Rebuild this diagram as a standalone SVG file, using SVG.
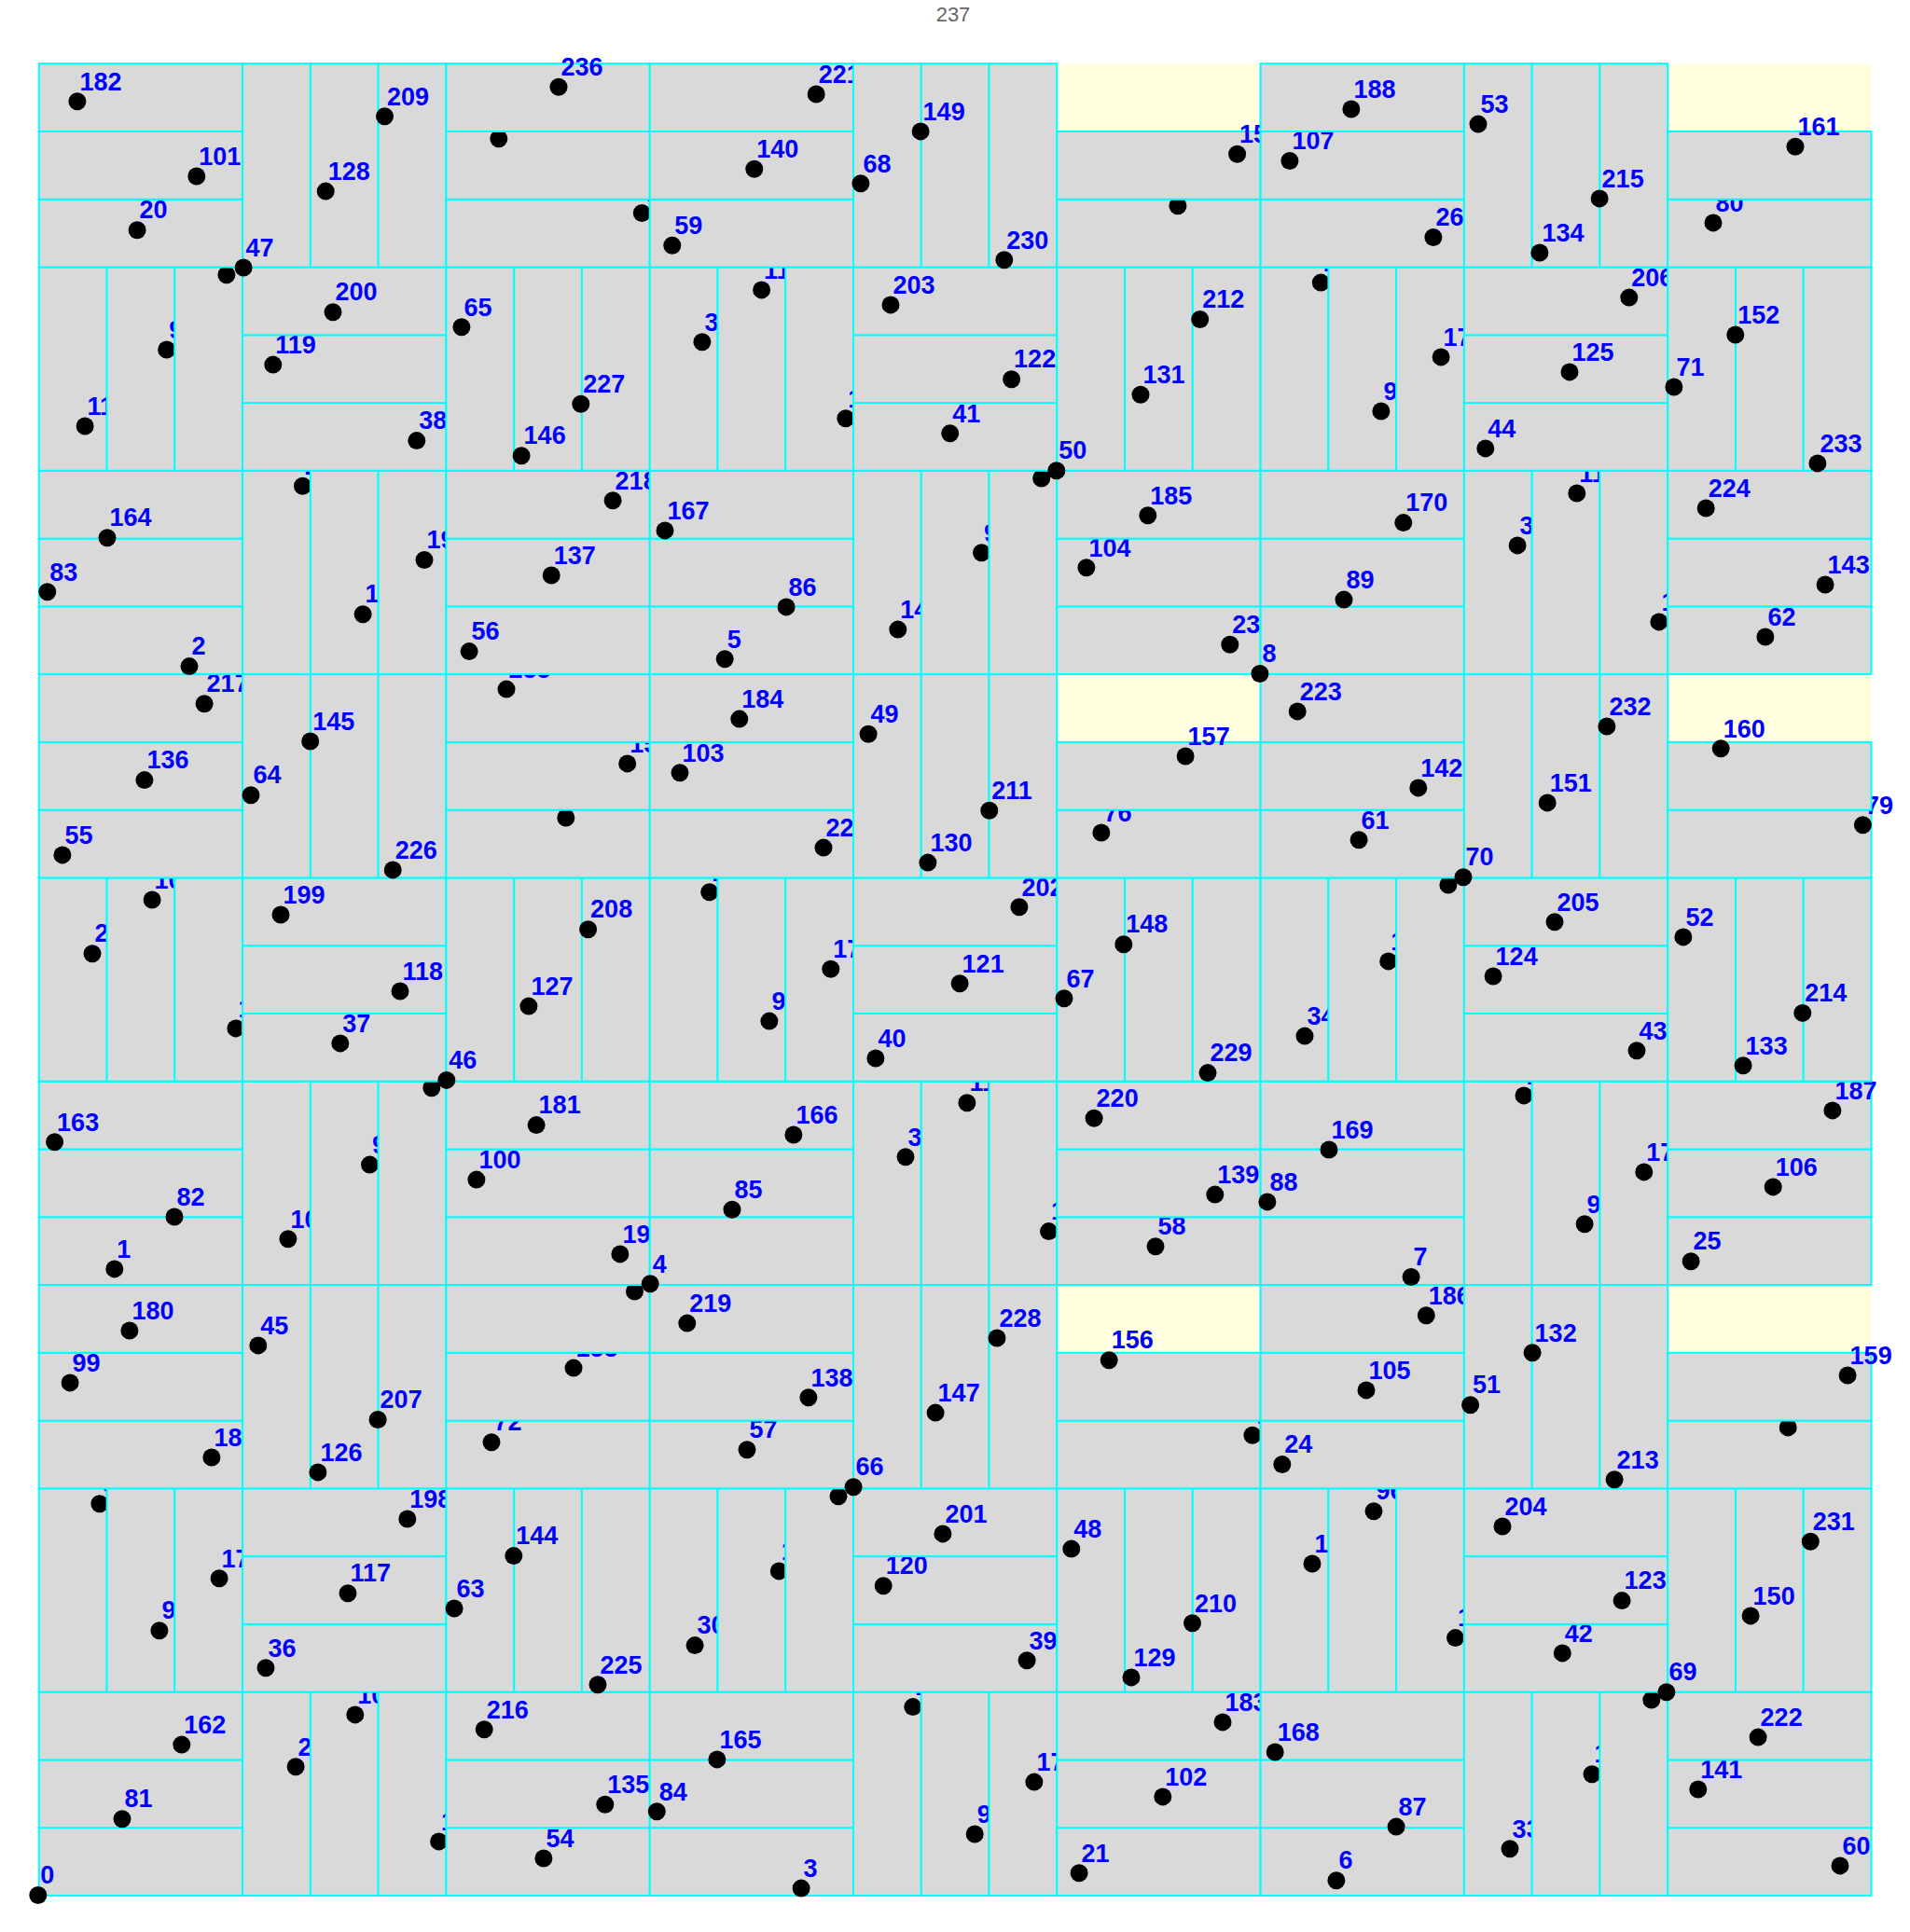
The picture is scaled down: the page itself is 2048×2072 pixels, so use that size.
<svg xmlns="http://www.w3.org/2000/svg" width="2048" height="2072" viewBox="0 0 2048 2072">
<style>
.bg{fill:#ffffe0;stroke:none}
#nodes rect{fill:#d9d9d9;stroke:#00ffff;stroke-width:2}
#nodes circle{fill:#000}
#nodes text{font-family:"Liberation Sans",Arial,sans-serif;font-weight:bold;font-size:27px;fill:#0000ff}
.title{font-family:"Liberation Sans",Arial,sans-serif;font-size:22px;fill:#666;text-anchor:middle}
</style>
<rect width="2048" height="2072" fill="#fff"/>
<text class="title" x="1022" y="22.5">237</text>
<rect class="bg" x="41.8" y="68.2" width="1964.7" height="1964.7"/>
<g id="connectors"/>
<g id="nodes">
<g id="n0"><rect x="41.8" y="1960.1" width="218.3" height="72.8"/><circle cx="40.8" cy="2032.5" r="9.5"/><text x="43.3" y="2020.2">0</text></g>
<g id="n81"><rect x="41.8" y="1887.4" width="218.3" height="72.8"/><circle cx="131" cy="1950.7" r="9.5"/><text x="133.5" y="1938.4">81</text></g>
<g id="n162"><rect x="41.8" y="1814.6" width="218.3" height="72.8"/><circle cx="194.8" cy="1871.1" r="9.5"/><text x="197.3" y="1858.8">162</text></g>
<g id="n27"><rect x="260.1" y="1814.6" width="72.8" height="218.3"/><circle cx="317.1" cy="1894.8" r="9.5"/><text x="319.6" y="1882.5">27</text></g>
<g id="n108"><rect x="332.9" y="1814.6" width="72.8" height="218.3"/><circle cx="380.8" cy="1838.9" r="9.5"/><text x="383.3" y="1826.6">108</text></g>
<g id="n189"><rect x="405.6" y="1814.6" width="72.8" height="218.3"/><circle cx="470.6" cy="1974.9" r="9.5"/><text x="473.1" y="1962.6">189</text></g>
<g id="n54"><rect x="478.4" y="1960.1" width="218.3" height="72.8"/><circle cx="582.9" cy="1993" r="9.5"/><text x="585.4" y="1980.7">54</text></g>
<g id="n135"><rect x="478.4" y="1887.4" width="218.3" height="72.8"/><circle cx="648.8" cy="1935.3" r="9.5"/><text x="651.3" y="1923">135</text></g>
<g id="n216"><rect x="478.4" y="1814.6" width="218.3" height="72.8"/><circle cx="519.2" cy="1854.8" r="9.5"/><text x="521.7" y="1842.5">216</text></g>
<g id="n9"><rect x="41.8" y="1596.3" width="72.8" height="218.3"/><circle cx="106.8" cy="1612.7" r="9.5"/><text x="109.3" y="1600.4">9</text></g>
<g id="n90"><rect x="114.6" y="1596.3" width="72.8" height="218.3"/><circle cx="170.9" cy="1748.7" r="9.5"/><text x="173.4" y="1736.4">90</text></g>
<g id="n171"><rect x="187.3" y="1596.3" width="72.8" height="218.3"/><circle cx="235.1" cy="1692.8" r="9.5"/><text x="237.6" y="1680.5">171</text></g>
<g id="n36"><rect x="260.1" y="1741.8" width="218.3" height="72.8"/><circle cx="285" cy="1788.8" r="9.5"/><text x="287.5" y="1776.5">36</text></g>
<g id="n117"><rect x="260.1" y="1669.1" width="218.3" height="72.8"/><circle cx="373" cy="1708.7" r="9.5"/><text x="375.5" y="1696.4">117</text></g>
<g id="n198"><rect x="260.1" y="1596.3" width="218.3" height="72.8"/><circle cx="436.8" cy="1629" r="9.5"/><text x="439.3" y="1616.7">198</text></g>
<g id="n63"><rect x="478.4" y="1596.3" width="72.8" height="218.3"/><circle cx="487.1" cy="1725" r="9.5"/><text x="489.6" y="1712.7">63</text></g>
<g id="n144"><rect x="551.2" y="1596.3" width="72.8" height="218.3"/><circle cx="550.8" cy="1668.6" r="9.5"/><text x="553.3" y="1656.3">144</text></g>
<g id="n225"><rect x="623.9" y="1596.3" width="72.8" height="218.3"/><circle cx="641" cy="1806.8" r="9.5"/><text x="643.5" y="1794.5">225</text></g>
<g id="n18"><rect x="41.8" y="1523.5" width="218.3" height="72.8"/><circle cx="226.9" cy="1563" r="9.5"/><text x="229.4" y="1550.7">18</text></g>
<g id="n99"><rect x="41.8" y="1450.8" width="218.3" height="72.8"/><circle cx="75.1" cy="1482.9" r="9.5"/><text x="77.6" y="1470.6">99</text></g>
<g id="n180"><rect x="41.8" y="1378" width="218.3" height="72.8"/><circle cx="138.9" cy="1427" r="9.5"/><text x="141.4" y="1414.7">180</text></g>
<g id="n45"><rect x="260.1" y="1378" width="72.8" height="218.3"/><circle cx="276.8" cy="1442.9" r="9.5"/><text x="279.3" y="1430.6">45</text></g>
<g id="n126"><rect x="332.9" y="1378" width="72.8" height="218.3"/><circle cx="340.9" cy="1578.9" r="9.5"/><text x="343.4" y="1566.6">126</text></g>
<g id="n207"><rect x="405.6" y="1378" width="72.8" height="218.3"/><circle cx="405.1" cy="1522.5" r="9.5"/><text x="407.6" y="1510.2">207</text></g>
<g id="n72"><rect x="478.4" y="1523.5" width="218.3" height="72.8"/><circle cx="527" cy="1546.7" r="9.5"/><text x="529.5" y="1534.4">72</text></g>
<g id="n153"><rect x="478.4" y="1450.8" width="218.3" height="72.8"/><circle cx="615" cy="1467.1" r="9.5"/><text x="617.5" y="1454.8">153</text></g>
<g id="n234"><rect x="478.4" y="1378" width="218.3" height="72.8"/><circle cx="680.5" cy="1385" r="9.5"/><text x="683" y="1372.7">234</text></g>
<g id="n3"><rect x="696.7" y="1960.1" width="218.3" height="72.8"/><circle cx="859.1" cy="2025.1" r="9.5"/><text x="861.6" y="2012.8">3</text></g>
<g id="n84"><rect x="696.7" y="1887.4" width="218.3" height="72.8"/><circle cx="704.3" cy="1942.8" r="9.5"/><text x="706.8" y="1930.5">84</text></g>
<g id="n165"><rect x="696.7" y="1814.6" width="218.3" height="72.8"/><circle cx="768.9" cy="1886.9" r="9.5"/><text x="771.4" y="1874.6">165</text></g>
<g id="n30"><rect x="696.7" y="1596.3" width="72.8" height="218.3"/><circle cx="745.1" cy="1764.6" r="9.5"/><text x="747.6" y="1752.3">30</text></g>
<g id="n111"><rect x="769.5" y="1596.3" width="72.8" height="218.3"/><circle cx="835.3" cy="1684.9" r="9.5"/><text x="837.8" y="1672.6">111</text></g>
<g id="n192"><rect x="842.2" y="1596.3" width="72.8" height="218.3"/><circle cx="899" cy="1604.8" r="9.5"/><text x="901.5" y="1592.5">192</text></g>
<g id="n57"><rect x="696.7" y="1523.5" width="218.3" height="72.8"/><circle cx="801" cy="1554.7" r="9.5"/><text x="803.5" y="1542.4">57</text></g>
<g id="n138"><rect x="696.7" y="1450.8" width="218.3" height="72.8"/><circle cx="866.9" cy="1498.8" r="9.5"/><text x="869.4" y="1486.5">138</text></g>
<g id="n219"><rect x="696.7" y="1378" width="218.3" height="72.8"/><circle cx="736.8" cy="1419.1" r="9.5"/><text x="739.3" y="1406.8">219</text></g>
<g id="n12"><rect x="915" y="1814.6" width="72.8" height="218.3"/><circle cx="978.8" cy="1830.6" r="9.5"/><text x="981.3" y="1818.3">12</text></g>
<g id="n93"><rect x="987.8" y="1814.6" width="72.8" height="218.3"/><circle cx="1045.2" cy="1967" r="9.5"/><text x="1047.7" y="1954.7">93</text></g>
<g id="n174"><rect x="1060.5" y="1814.6" width="72.8" height="218.3"/><circle cx="1108.9" cy="1911.1" r="9.5"/><text x="1111.4" y="1898.8">174</text></g>
<g id="n39"><rect x="915" y="1741.8" width="218.3" height="72.8"/><circle cx="1101.1" cy="1780.8" r="9.5"/><text x="1103.6" y="1768.5">39</text></g>
<g id="n120"><rect x="915" y="1669.1" width="218.3" height="72.8"/><circle cx="947.2" cy="1700.7" r="9.5"/><text x="949.7" y="1688.4">120</text></g>
<g id="n201"><rect x="915" y="1596.3" width="218.3" height="72.8"/><circle cx="1010.9" cy="1644.9" r="9.5"/><text x="1013.4" y="1632.6">201</text></g>
<g id="n66"><rect x="915" y="1378" width="72.8" height="218.3"/><circle cx="915.1" cy="1594.7" r="9.5"/><text x="917.6" y="1582.4">66</text></g>
<g id="n147"><rect x="987.8" y="1378" width="72.8" height="218.3"/><circle cx="1003.1" cy="1515.1" r="9.5"/><text x="1005.6" y="1502.8">147</text></g>
<g id="n228"><rect x="1060.5" y="1378" width="72.8" height="218.3"/><circle cx="1069" cy="1435" r="9.5"/><text x="1071.5" y="1422.7">228</text></g>
<g id="n21"><rect x="1133.3" y="1960.1" width="218.3" height="72.8"/><circle cx="1157.1" cy="2008.8" r="9.5"/><text x="1159.6" y="1996.5">21</text></g>
<g id="n102"><rect x="1133.3" y="1887.4" width="218.3" height="72.8"/><circle cx="1246.8" cy="1926.9" r="9.5"/><text x="1249.3" y="1914.6">102</text></g>
<g id="n183"><rect x="1133.3" y="1814.6" width="218.3" height="72.8"/><circle cx="1311" cy="1846.9" r="9.5"/><text x="1313.5" y="1834.6">183</text></g>
<g id="n48"><rect x="1133.3" y="1596.3" width="72.8" height="218.3"/><circle cx="1148.8" cy="1661.1" r="9.5"/><text x="1151.3" y="1648.8">48</text></g>
<g id="n129"><rect x="1206.1" y="1596.3" width="72.8" height="218.3"/><circle cx="1213" cy="1798.9" r="9.5"/><text x="1215.5" y="1786.6">129</text></g>
<g id="n210"><rect x="1278.8" y="1596.3" width="72.8" height="218.3"/><circle cx="1278.5" cy="1740.8" r="9.5"/><text x="1281" y="1728.5">210</text></g>
<g id="n75"><rect x="1133.3" y="1523.5" width="218.3" height="72.8"/><circle cx="1342.9" cy="1539.3" r="9.5"/><text x="1345.4" y="1527">75</text></g>
<g id="n156"><rect x="1133.3" y="1450.8" width="218.3" height="72.8"/><circle cx="1189.2" cy="1458.7" r="9.5"/><text x="1191.7" y="1446.4">156</text></g>
<g id="n6"><rect x="1351.6" y="1960.1" width="218.3" height="72.8"/><circle cx="1432.9" cy="2016.7" r="9.5"/><text x="1435.4" y="2004.4">6</text></g>
<g id="n87"><rect x="1351.6" y="1887.4" width="218.3" height="72.8"/><circle cx="1497.1" cy="1959.1" r="9.5"/><text x="1499.6" y="1946.8">87</text></g>
<g id="n168"><rect x="1351.6" y="1814.6" width="218.3" height="72.8"/><circle cx="1367.2" cy="1879" r="9.5"/><text x="1369.7" y="1866.7">168</text></g>
<g id="n33"><rect x="1569.9" y="1814.6" width="72.8" height="218.3"/><circle cx="1619" cy="1982.8" r="9.5"/><text x="1621.5" y="1970.5">33</text></g>
<g id="n114"><rect x="1642.7" y="1814.6" width="72.8" height="218.3"/><circle cx="1707" cy="1902.7" r="9.5"/><text x="1709.5" y="1890.4">114</text></g>
<g id="n195"><rect x="1715.4" y="1814.6" width="72.8" height="218.3"/><circle cx="1770.8" cy="1823.1" r="9.5"/><text x="1773.3" y="1810.8">195</text></g>
<g id="n60"><rect x="1788.2" y="1960.1" width="218.3" height="72.8"/><circle cx="1973" cy="2000.9" r="9.5"/><text x="1975.5" y="1988.6">60</text></g>
<g id="n141"><rect x="1788.2" y="1887.4" width="218.3" height="72.8"/><circle cx="1820.8" cy="1919" r="9.5"/><text x="1823.3" y="1906.7">141</text></g>
<g id="n222"><rect x="1788.2" y="1814.6" width="218.3" height="72.8"/><circle cx="1885.1" cy="1863.1" r="9.5"/><text x="1887.6" y="1850.8">222</text></g>
<g id="n15"><rect x="1351.6" y="1596.3" width="72.8" height="218.3"/><circle cx="1407" cy="1677" r="9.5"/><text x="1409.5" y="1664.7">15</text></g>
<g id="n96"><rect x="1424.4" y="1596.3" width="72.8" height="218.3"/><circle cx="1473" cy="1620.7" r="9.5"/><text x="1475.5" y="1608.4">96</text></g>
<g id="n177"><rect x="1497.1" y="1596.3" width="72.8" height="218.3"/><circle cx="1560.5" cy="1756.6" r="9.5"/><text x="1563" y="1744.3">177</text></g>
<g id="n42"><rect x="1569.9" y="1741.8" width="218.3" height="72.8"/><circle cx="1675.3" cy="1772.9" r="9.5"/><text x="1677.8" y="1760.6">42</text></g>
<g id="n123"><rect x="1569.9" y="1669.1" width="218.3" height="72.8"/><circle cx="1739.1" cy="1716.6" r="9.5"/><text x="1741.6" y="1704.3">123</text></g>
<g id="n204"><rect x="1569.9" y="1596.3" width="218.3" height="72.8"/><circle cx="1611" cy="1637" r="9.5"/><text x="1613.5" y="1624.7">204</text></g>
<g id="n69"><rect x="1788.2" y="1596.3" width="72.8" height="218.3"/><circle cx="1786.9" cy="1814.7" r="9.5"/><text x="1789.4" y="1802.4">69</text></g>
<g id="n150"><rect x="1861" y="1596.3" width="72.8" height="218.3"/><circle cx="1877.1" cy="1732.9" r="9.5"/><text x="1879.6" y="1720.6">150</text></g>
<g id="n231"><rect x="1933.7" y="1596.3" width="72.8" height="218.3"/><circle cx="1941.3" cy="1653.2" r="9.5"/><text x="1943.8" y="1640.9">231</text></g>
<g id="n24"><rect x="1351.6" y="1523.5" width="218.3" height="72.8"/><circle cx="1374.8" cy="1570.5" r="9.5"/><text x="1377.3" y="1558.2">24</text></g>
<g id="n105"><rect x="1351.6" y="1450.8" width="218.3" height="72.8"/><circle cx="1465" cy="1490.9" r="9.5"/><text x="1467.5" y="1478.6">105</text></g>
<g id="n186"><rect x="1351.6" y="1378" width="218.3" height="72.8"/><circle cx="1529.3" cy="1410.8" r="9.5"/><text x="1531.8" y="1398.5">186</text></g>
<g id="n51"><rect x="1569.9" y="1378" width="72.8" height="218.3"/><circle cx="1576.6" cy="1506.7" r="9.5"/><text x="1579.1" y="1494.4">51</text></g>
<g id="n132"><rect x="1642.7" y="1378" width="72.8" height="218.3"/><circle cx="1643.1" cy="1450.8" r="9.5"/><text x="1645.6" y="1438.5">132</text></g>
<g id="n213"><rect x="1715.4" y="1378" width="72.8" height="218.3"/><circle cx="1731.1" cy="1586.8" r="9.5"/><text x="1733.6" y="1574.5">213</text></g>
<g id="n78"><rect x="1788.2" y="1523.5" width="218.3" height="72.8"/><circle cx="1917.2" cy="1530.9" r="9.5"/><text x="1919.7" y="1518.6">78</text></g>
<g id="n159"><rect x="1788.2" y="1450.8" width="218.3" height="72.8"/><circle cx="1981.1" cy="1475" r="9.5"/><text x="1983.6" y="1462.7">159</text></g>
<g id="n1"><rect x="41.8" y="1305.2" width="218.3" height="72.8"/><circle cx="122.8" cy="1360.9" r="9.5"/><text x="125.3" y="1348.6">1</text></g>
<g id="n82"><rect x="41.8" y="1232.5" width="218.3" height="72.8"/><circle cx="187" cy="1305" r="9.5"/><text x="189.5" y="1292.7">82</text></g>
<g id="n163"><rect x="41.8" y="1159.7" width="218.3" height="72.8"/><circle cx="58.6" cy="1224.8" r="9.5"/><text x="61.1" y="1212.5">163</text></g>
<g id="n28"><rect x="41.8" y="941.4" width="72.8" height="218.3"/><circle cx="99" cy="1022.7" r="9.5"/><text x="101.5" y="1010.4">28</text></g>
<g id="n109"><rect x="114.6" y="941.4" width="72.8" height="218.3"/><circle cx="163.1" cy="965" r="9.5"/><text x="165.6" y="952.7">109</text></g>
<g id="n190"><rect x="187.3" y="941.4" width="72.8" height="218.3"/><circle cx="252.9" cy="1102.9" r="9.5"/><text x="255.4" y="1090.6">190</text></g>
<g id="n55"><rect x="41.8" y="868.6" width="218.3" height="72.8"/><circle cx="66.9" cy="916.9" r="9.5"/><text x="69.4" y="904.6">55</text></g>
<g id="n136"><rect x="41.8" y="795.9" width="218.3" height="72.8"/><circle cx="154.9" cy="836.6" r="9.5"/><text x="157.4" y="824.3">136</text></g>
<g id="n217"><rect x="41.8" y="723.1" width="218.3" height="72.8"/><circle cx="219.1" cy="754.7" r="9.5"/><text x="221.6" y="742.4">217</text></g>
<g id="n10"><rect x="260.1" y="1159.7" width="72.8" height="218.3"/><circle cx="308.9" cy="1328.8" r="9.5"/><text x="311.4" y="1316.5">10</text></g>
<g id="n91"><rect x="332.9" y="1159.7" width="72.8" height="218.3"/><circle cx="396.5" cy="1249.1" r="9.5"/><text x="399" y="1236.8">91</text></g>
<g id="n172"><rect x="405.6" y="1159.7" width="72.8" height="218.3"/><circle cx="462.8" cy="1166.7" r="9.5"/><text x="465.3" y="1154.4">172</text></g>
<g id="n37"><rect x="260.1" y="1086.9" width="218.3" height="72.8"/><circle cx="364.8" cy="1118.9" r="9.5"/><text x="367.3" y="1106.6">37</text></g>
<g id="n118"><rect x="260.1" y="1014.2" width="218.3" height="72.8"/><circle cx="429" cy="1063" r="9.5"/><text x="431.5" y="1050.7">118</text></g>
<g id="n199"><rect x="260.1" y="941.4" width="218.3" height="72.8"/><circle cx="301" cy="981" r="9.5"/><text x="303.5" y="968.7">199</text></g>
<g id="n64"><rect x="260.1" y="723.1" width="72.8" height="218.3"/><circle cx="269" cy="852.7" r="9.5"/><text x="271.5" y="840.4">64</text></g>
<g id="n145"><rect x="332.9" y="723.1" width="72.8" height="218.3"/><circle cx="332.7" cy="795" r="9.5"/><text x="335.2" y="782.7">145</text></g>
<g id="n226"><rect x="405.6" y="723.1" width="72.8" height="218.3"/><circle cx="421.2" cy="932.9" r="9.5"/><text x="423.7" y="920.6">226</text></g>
<g id="n19"><rect x="478.4" y="1305.2" width="218.3" height="72.8"/><circle cx="664.9" cy="1344.9" r="9.5"/><text x="667.4" y="1332.6">19</text></g>
<g id="n100"><rect x="478.4" y="1232.5" width="218.3" height="72.8"/><circle cx="510.9" cy="1265.1" r="9.5"/><text x="513.4" y="1252.8">100</text></g>
<g id="n181"><rect x="478.4" y="1159.7" width="218.3" height="72.8"/><circle cx="575.1" cy="1206.6" r="9.5"/><text x="577.6" y="1194.3">181</text></g>
<g id="n46"><rect x="478.4" y="941.4" width="72.8" height="218.3"/><circle cx="478.8" cy="1158.4" r="9.5"/><text x="481.3" y="1146.1">46</text></g>
<g id="n127"><rect x="551.2" y="941.4" width="72.8" height="218.3"/><circle cx="566.9" cy="1079.1" r="9.5"/><text x="569.4" y="1066.8">127</text></g>
<g id="n208"><rect x="623.9" y="941.4" width="72.8" height="218.3"/><circle cx="630.6" cy="996.7" r="9.5"/><text x="633.1" y="984.4">208</text></g>
<g id="n73"><rect x="478.4" y="868.6" width="218.3" height="72.8"/><circle cx="606.8" cy="877" r="9.5"/><text x="609.3" y="864.7">73</text></g>
<g id="n154"><rect x="478.4" y="795.9" width="218.3" height="72.8"/><circle cx="672.7" cy="818.9" r="9.5"/><text x="675.2" y="806.6">154</text></g>
<g id="n235"><rect x="478.4" y="723.1" width="218.3" height="72.8"/><circle cx="543" cy="739.1" r="9.5"/><text x="545.5" y="726.8">235</text></g>
<g id="n4"><rect x="696.7" y="1305.2" width="218.3" height="72.8"/><circle cx="697.2" cy="1376.8" r="9.5"/><text x="699.7" y="1364.5">4</text></g>
<g id="n85"><rect x="696.7" y="1232.5" width="218.3" height="72.8"/><circle cx="785" cy="1297.2" r="9.5"/><text x="787.5" y="1284.9">85</text></g>
<g id="n166"><rect x="696.7" y="1159.7" width="218.3" height="72.8"/><circle cx="850.9" cy="1217" r="9.5"/><text x="853.4" y="1204.7">166</text></g>
<g id="n31"><rect x="915" y="1159.7" width="72.8" height="218.3"/><circle cx="971" cy="1240.8" r="9.5"/><text x="973.5" y="1228.5">31</text></g>
<g id="n112"><rect x="987.8" y="1159.7" width="72.8" height="218.3"/><circle cx="1036.9" cy="1182.7" r="9.5"/><text x="1039.4" y="1170.4">112</text></g>
<g id="n193"><rect x="1060.5" y="1159.7" width="72.8" height="218.3"/><circle cx="1124.5" cy="1320.6" r="9.5"/><text x="1127" y="1308.3">193</text></g>
<g id="n58"><rect x="1133.3" y="1305.2" width="218.3" height="72.8"/><circle cx="1239" cy="1336.7" r="9.5"/><text x="1241.5" y="1324.4">58</text></g>
<g id="n139"><rect x="1133.3" y="1232.5" width="218.3" height="72.8"/><circle cx="1302.8" cy="1281.1" r="9.5"/><text x="1305.3" y="1268.8">139</text></g>
<g id="n220"><rect x="1133.3" y="1159.7" width="218.3" height="72.8"/><circle cx="1173.1" cy="1199.2" r="9.5"/><text x="1175.6" y="1186.9">220</text></g>
<g id="n13"><rect x="696.7" y="941.4" width="72.8" height="218.3"/><circle cx="760.7" cy="956.8" r="9.5"/><text x="763.2" y="944.5">13</text></g>
<g id="n94"><rect x="769.5" y="941.4" width="72.8" height="218.3"/><circle cx="824.9" cy="1095.1" r="9.5"/><text x="827.4" y="1082.8">94</text></g>
<g id="n175"><rect x="842.2" y="941.4" width="72.8" height="218.3"/><circle cx="890.8" cy="1039.2" r="9.5"/><text x="893.3" y="1026.9">175</text></g>
<g id="n40"><rect x="915" y="1086.9" width="218.3" height="72.8"/><circle cx="938.9" cy="1135" r="9.5"/><text x="941.4" y="1122.7">40</text></g>
<g id="n121"><rect x="915" y="1014.2" width="218.3" height="72.8"/><circle cx="1029.1" cy="1054.8" r="9.5"/><text x="1031.6" y="1042.5">121</text></g>
<g id="n202"><rect x="915" y="941.4" width="218.3" height="72.8"/><circle cx="1092.9" cy="972.8" r="9.5"/><text x="1095.4" y="960.5">202</text></g>
<g id="n67"><rect x="1133.3" y="941.4" width="72.8" height="218.3"/><circle cx="1141" cy="1070.8" r="9.5"/><text x="1143.5" y="1058.5">67</text></g>
<g id="n148"><rect x="1206.1" y="941.4" width="72.8" height="218.3"/><circle cx="1204.8" cy="1012.7" r="9.5"/><text x="1207.3" y="1000.4">148</text></g>
<g id="n229"><rect x="1278.8" y="941.4" width="72.8" height="218.3"/><circle cx="1295" cy="1150.6" r="9.5"/><text x="1297.5" y="1138.3">229</text></g>
<g id="n22"><rect x="696.7" y="868.6" width="218.3" height="72.8"/><circle cx="883" cy="909.1" r="9.5"/><text x="885.5" y="896.8">22</text></g>
<g id="n103"><rect x="696.7" y="795.9" width="218.3" height="72.8"/><circle cx="729" cy="828.8" r="9.5"/><text x="731.5" y="816.5">103</text></g>
<g id="n184"><rect x="696.7" y="723.1" width="218.3" height="72.8"/><circle cx="792.8" cy="771.1" r="9.5"/><text x="795.3" y="758.8">184</text></g>
<g id="n49"><rect x="915" y="723.1" width="72.8" height="218.3"/><circle cx="931.1" cy="787.2" r="9.5"/><text x="933.6" y="774.9">49</text></g>
<g id="n130"><rect x="987.8" y="723.1" width="72.8" height="218.3"/><circle cx="994.9" cy="925.1" r="9.5"/><text x="997.4" y="912.8">130</text></g>
<g id="n211"><rect x="1060.5" y="723.1" width="72.8" height="218.3"/><circle cx="1060.8" cy="869.2" r="9.5"/><text x="1063.3" y="856.9">211</text></g>
<g id="n76"><rect x="1133.3" y="868.6" width="218.3" height="72.8"/><circle cx="1180.9" cy="893" r="9.5"/><text x="1183.4" y="880.7">76</text></g>
<g id="n157"><rect x="1133.3" y="795.9" width="218.3" height="72.8"/><circle cx="1271.1" cy="811" r="9.5"/><text x="1273.6" y="798.7">157</text></g>
<g id="n7"><rect x="1351.6" y="1305.2" width="218.3" height="72.8"/><circle cx="1513.1" cy="1369.5" r="9.5"/><text x="1515.6" y="1357.2">7</text></g>
<g id="n88"><rect x="1351.6" y="1232.5" width="218.3" height="72.8"/><circle cx="1358.9" cy="1288.9" r="9.5"/><text x="1361.4" y="1276.6">88</text></g>
<g id="n169"><rect x="1351.6" y="1159.7" width="218.3" height="72.8"/><circle cx="1425" cy="1233" r="9.5"/><text x="1427.5" y="1220.7">169</text></g>
<g id="n34"><rect x="1351.6" y="941.4" width="72.8" height="218.3"/><circle cx="1399" cy="1111.1" r="9.5"/><text x="1401.5" y="1098.8">34</text></g>
<g id="n115"><rect x="1424.4" y="941.4" width="72.8" height="218.3"/><circle cx="1488.7" cy="1030.9" r="9.5"/><text x="1491.2" y="1018.6">115</text></g>
<g id="n196"><rect x="1497.1" y="941.4" width="72.8" height="218.3"/><circle cx="1552.9" cy="949" r="9.5"/><text x="1555.4" y="936.7">196</text></g>
<g id="n61"><rect x="1351.6" y="868.6" width="218.3" height="72.8"/><circle cx="1457.1" cy="900.8" r="9.5"/><text x="1459.6" y="888.5">61</text></g>
<g id="n142"><rect x="1351.6" y="795.9" width="218.3" height="72.8"/><circle cx="1520.8" cy="844.9" r="9.5"/><text x="1523.3" y="832.6">142</text></g>
<g id="n223"><rect x="1351.6" y="723.1" width="218.3" height="72.8"/><circle cx="1391.2" cy="762.9" r="9.5"/><text x="1393.7" y="750.6">223</text></g>
<g id="n16"><rect x="1569.9" y="1159.7" width="72.8" height="218.3"/><circle cx="1634" cy="1174.9" r="9.5"/><text x="1636.5" y="1162.6">16</text></g>
<g id="n97"><rect x="1642.7" y="1159.7" width="72.8" height="218.3"/><circle cx="1699.1" cy="1312.8" r="9.5"/><text x="1701.6" y="1300.5">97</text></g>
<g id="n178"><rect x="1715.4" y="1159.7" width="72.8" height="218.3"/><circle cx="1762.8" cy="1256.9" r="9.5"/><text x="1765.3" y="1244.6">178</text></g>
<g id="n43"><rect x="1569.9" y="1086.9" width="218.3" height="72.8"/><circle cx="1755" cy="1126.8" r="9.5"/><text x="1757.5" y="1114.5">43</text></g>
<g id="n124"><rect x="1569.9" y="1014.2" width="218.3" height="72.8"/><circle cx="1601.1" cy="1047" r="9.5"/><text x="1603.6" y="1034.7">124</text></g>
<g id="n205"><rect x="1569.9" y="941.4" width="218.3" height="72.8"/><circle cx="1667" cy="988.8" r="9.5"/><text x="1669.5" y="976.5">205</text></g>
<g id="n70"><rect x="1569.9" y="723.1" width="72.8" height="218.3"/><circle cx="1569" cy="940.7" r="9.5"/><text x="1571.5" y="928.4">70</text></g>
<g id="n151"><rect x="1642.7" y="723.1" width="72.8" height="218.3"/><circle cx="1659.2" cy="860.9" r="9.5"/><text x="1661.7" y="848.6">151</text></g>
<g id="n232"><rect x="1715.4" y="723.1" width="72.8" height="218.3"/><circle cx="1722.9" cy="779" r="9.5"/><text x="1725.4" y="766.7">232</text></g>
<g id="n25"><rect x="1788.2" y="1305.2" width="218.3" height="72.8"/><circle cx="1813.1" cy="1352.7" r="9.5"/><text x="1815.6" y="1340.4">25</text></g>
<g id="n106"><rect x="1788.2" y="1232.5" width="218.3" height="72.8"/><circle cx="1901.2" cy="1272.9" r="9.5"/><text x="1903.7" y="1260.6">106</text></g>
<g id="n187"><rect x="1788.2" y="1159.7" width="218.3" height="72.8"/><circle cx="1964.9" cy="1190.9" r="9.5"/><text x="1967.4" y="1178.6">187</text></g>
<g id="n52"><rect x="1788.2" y="941.4" width="72.8" height="218.3"/><circle cx="1804.9" cy="1004.9" r="9.5"/><text x="1807.4" y="992.6">52</text></g>
<g id="n133"><rect x="1861" y="941.4" width="72.8" height="218.3"/><circle cx="1869.1" cy="1142.8" r="9.5"/><text x="1871.6" y="1130.5">133</text></g>
<g id="n214"><rect x="1933.7" y="941.4" width="72.8" height="218.3"/><circle cx="1932.8" cy="1086.4" r="9.5"/><text x="1935.3" y="1074.1">214</text></g>
<g id="n79"><rect x="1788.2" y="868.6" width="218.3" height="72.8"/><circle cx="1997.4" cy="884.8" r="9.5"/><text x="1999.9" y="872.5">79</text></g>
<g id="n160"><rect x="1788.2" y="795.9" width="218.3" height="72.8"/><circle cx="1845.2" cy="802.8" r="9.5"/><text x="1847.7" y="790.5">160</text></g>
<g id="n2"><rect x="41.8" y="650.3" width="218.3" height="72.8"/><circle cx="203" cy="714.6" r="9.5"/><text x="205.5" y="702.3">2</text></g>
<g id="n83"><rect x="41.8" y="577.6" width="218.3" height="72.8"/><circle cx="50.8" cy="634.8" r="9.5"/><text x="53.3" y="622.5">83</text></g>
<g id="n164"><rect x="41.8" y="504.8" width="218.3" height="72.8"/><circle cx="115" cy="576.7" r="9.5"/><text x="117.5" y="564.4">164</text></g>
<g id="n29"><rect x="260.1" y="504.8" width="72.8" height="218.3"/><circle cx="324.5" cy="521.2" r="9.5"/><text x="327" y="508.9">29</text></g>
<g id="n110"><rect x="332.9" y="504.8" width="72.8" height="218.3"/><circle cx="389.1" cy="658.7" r="9.5"/><text x="391.6" y="646.4">110</text></g>
<g id="n191"><rect x="405.6" y="504.8" width="72.8" height="218.3"/><circle cx="455" cy="600.5" r="9.5"/><text x="457.5" y="588.2">191</text></g>
<g id="n56"><rect x="478.4" y="650.3" width="218.3" height="72.8"/><circle cx="503.1" cy="698.6" r="9.5"/><text x="505.6" y="686.3">56</text></g>
<g id="n137"><rect x="478.4" y="577.6" width="218.3" height="72.8"/><circle cx="591.2" cy="617" r="9.5"/><text x="593.7" y="604.7">137</text></g>
<g id="n218"><rect x="478.4" y="504.8" width="218.3" height="72.8"/><circle cx="657.1" cy="536.8" r="9.5"/><text x="659.6" y="524.5">218</text></g>
<g id="n11"><rect x="41.8" y="286.5" width="72.8" height="218.3"/><circle cx="91.1" cy="457" r="9.5"/><text x="93.6" y="444.7">11</text></g>
<g id="n92"><rect x="114.6" y="286.5" width="72.8" height="218.3"/><circle cx="178.7" cy="375" r="9.5"/><text x="181.2" y="362.7">92</text></g>
<g id="n173"><rect x="187.3" y="286.5" width="72.8" height="218.3"/><circle cx="242.9" cy="294.8" r="9.5"/><text x="245.4" y="282.5">173</text></g>
<g id="n38"><rect x="260.1" y="432" width="218.3" height="72.8"/><circle cx="446.8" cy="472.6" r="9.5"/><text x="449.3" y="460.3">38</text></g>
<g id="n119"><rect x="260.1" y="359.3" width="218.3" height="72.8"/><circle cx="292.8" cy="391.1" r="9.5"/><text x="295.3" y="378.8">119</text></g>
<g id="n200"><rect x="260.1" y="286.5" width="218.3" height="72.8"/><circle cx="357" cy="334.7" r="9.5"/><text x="359.5" y="322.4">200</text></g>
<g id="n65"><rect x="478.4" y="286.5" width="72.8" height="218.3"/><circle cx="494.9" cy="350.8" r="9.5"/><text x="497.4" y="338.5">65</text></g>
<g id="n146"><rect x="551.2" y="286.5" width="72.8" height="218.3"/><circle cx="559.1" cy="488.7" r="9.5"/><text x="561.6" y="476.4">146</text></g>
<g id="n227"><rect x="623.9" y="286.5" width="72.8" height="218.3"/><circle cx="622.8" cy="433.2" r="9.5"/><text x="625.3" y="420.9">227</text></g>
<g id="n20"><rect x="41.8" y="213.7" width="218.3" height="72.8"/><circle cx="147.1" cy="246.7" r="9.5"/><text x="149.6" y="234.4">20</text></g>
<g id="n101"><rect x="41.8" y="141" width="218.3" height="72.8"/><circle cx="210.8" cy="189" r="9.5"/><text x="213.3" y="176.7">101</text></g>
<g id="n182"><rect x="41.8" y="68.2" width="218.3" height="72.8"/><circle cx="82.9" cy="108.8" r="9.5"/><text x="85.4" y="96.5">182</text></g>
<g id="n47"><rect x="260.1" y="68.2" width="72.8" height="218.3"/><circle cx="261.1" cy="287" r="9.5"/><text x="263.6" y="274.7">47</text></g>
<g id="n128"><rect x="332.9" y="68.2" width="72.8" height="218.3"/><circle cx="349.2" cy="205.1" r="9.5"/><text x="351.7" y="192.8">128</text></g>
<g id="n209"><rect x="405.6" y="68.2" width="72.8" height="218.3"/><circle cx="412.5" cy="124.8" r="9.5"/><text x="415" y="112.5">209</text></g>
<g id="n74"><rect x="478.4" y="213.7" width="218.3" height="72.8"/><circle cx="688.3" cy="228.5" r="9.5"/><text x="690.8" y="216.2">74</text></g>
<g id="n155"><rect x="478.4" y="141" width="218.3" height="72.8"/><circle cx="534.8" cy="148.7" r="9.5"/><text x="537.3" y="136.4">155</text></g>
<g id="n236"><rect x="478.4" y="68.2" width="218.3" height="72.8"/><circle cx="599" cy="93.2" r="9.5"/><text x="601.5" y="80.9">236</text></g>
<g id="n5"><rect x="696.7" y="650.3" width="218.3" height="72.8"/><circle cx="777.2" cy="706.8" r="9.5"/><text x="779.7" y="694.5">5</text></g>
<g id="n86"><rect x="696.7" y="577.6" width="218.3" height="72.8"/><circle cx="843.1" cy="650.9" r="9.5"/><text x="845.6" y="638.6">86</text></g>
<g id="n167"><rect x="696.7" y="504.8" width="218.3" height="72.8"/><circle cx="713" cy="568.9" r="9.5"/><text x="715.5" y="556.6">167</text></g>
<g id="n32"><rect x="696.7" y="286.5" width="72.8" height="218.3"/><circle cx="752.9" cy="366.8" r="9.5"/><text x="755.4" y="354.5">32</text></g>
<g id="n113"><rect x="769.5" y="286.5" width="72.8" height="218.3"/><circle cx="816.6" cy="310.9" r="9.5"/><text x="819.1" y="298.6">113</text></g>
<g id="n194"><rect x="842.2" y="286.5" width="72.8" height="218.3"/><circle cx="906.8" cy="448.8" r="9.5"/><text x="909.3" y="436.5">194</text></g>
<g id="n59"><rect x="696.7" y="213.7" width="218.3" height="72.8"/><circle cx="720.8" cy="263.2" r="9.5"/><text x="723.3" y="250.9">59</text></g>
<g id="n140"><rect x="696.7" y="141" width="218.3" height="72.8"/><circle cx="808.8" cy="181.2" r="9.5"/><text x="811.3" y="168.9">140</text></g>
<g id="n221"><rect x="696.7" y="68.2" width="218.3" height="72.8"/><circle cx="875.2" cy="101" r="9.5"/><text x="877.7" y="88.7">221</text></g>
<g id="n14"><rect x="915" y="504.8" width="72.8" height="218.3"/><circle cx="962.8" cy="675.1" r="9.5"/><text x="965.3" y="662.8">14</text></g>
<g id="n95"><rect x="987.8" y="504.8" width="72.8" height="218.3"/><circle cx="1052.5" cy="592.8" r="9.5"/><text x="1055" y="580.5">95</text></g>
<g id="n176"><rect x="1060.5" y="504.8" width="72.8" height="218.3"/><circle cx="1116.7" cy="513" r="9.5"/><text x="1119.2" y="500.7">176</text></g>
<g id="n41"><rect x="915" y="432" width="218.3" height="72.8"/><circle cx="1018.7" cy="464.8" r="9.5"/><text x="1021.2" y="452.5">41</text></g>
<g id="n122"><rect x="915" y="359.3" width="218.3" height="72.8"/><circle cx="1084.6" cy="406.7" r="9.5"/><text x="1087.1" y="394.4">122</text></g>
<g id="n203"><rect x="915" y="286.5" width="218.3" height="72.8"/><circle cx="955" cy="326.9" r="9.5"/><text x="957.5" y="314.6">203</text></g>
<g id="n68"><rect x="915" y="68.2" width="72.8" height="218.3"/><circle cx="922.9" cy="196.8" r="9.5"/><text x="925.4" y="184.5">68</text></g>
<g id="n149"><rect x="987.8" y="68.2" width="72.8" height="218.3"/><circle cx="987.1" cy="140.9" r="9.5"/><text x="989.6" y="128.6">149</text></g>
<g id="n230"><rect x="1060.5" y="68.2" width="72.8" height="218.3"/><circle cx="1076.8" cy="278.8" r="9.5"/><text x="1079.3" y="266.5">230</text></g>
<g id="n23"><rect x="1133.3" y="650.3" width="218.3" height="72.8"/><circle cx="1318.8" cy="691.2" r="9.5"/><text x="1321.3" y="678.9">23</text></g>
<g id="n104"><rect x="1133.3" y="577.6" width="218.3" height="72.8"/><circle cx="1164.9" cy="608.8" r="9.5"/><text x="1167.4" y="596.5">104</text></g>
<g id="n185"><rect x="1133.3" y="504.8" width="218.3" height="72.8"/><circle cx="1230.8" cy="552.8" r="9.5"/><text x="1233.3" y="540.5">185</text></g>
<g id="n50"><rect x="1133.3" y="286.5" width="72.8" height="218.3"/><circle cx="1132.8" cy="504.7" r="9.5"/><text x="1135.3" y="492.4">50</text></g>
<g id="n131"><rect x="1206.1" y="286.5" width="72.8" height="218.3"/><circle cx="1223" cy="423.2" r="9.5"/><text x="1225.5" y="410.9">131</text></g>
<g id="n212"><rect x="1278.8" y="286.5" width="72.8" height="218.3"/><circle cx="1286.7" cy="342.5" r="9.5"/><text x="1289.2" y="330.2">212</text></g>
<g id="n77"><rect x="1133.3" y="213.7" width="218.3" height="72.8"/><circle cx="1262.9" cy="220.7" r="9.5"/><text x="1265.4" y="208.4">77</text></g>
<g id="n158"><rect x="1133.3" y="141" width="218.3" height="72.8"/><circle cx="1326.6" cy="165.2" r="9.5"/><text x="1329.1" y="152.9">158</text></g>
<g id="n8"><rect x="1351.6" y="650.3" width="218.3" height="72.8"/><circle cx="1350.9" cy="722.5" r="9.5"/><text x="1353.4" y="710.2">8</text></g>
<g id="n89"><rect x="1351.6" y="577.6" width="218.3" height="72.8"/><circle cx="1441" cy="643.1" r="9.5"/><text x="1443.5" y="630.8">89</text></g>
<g id="n170"><rect x="1351.6" y="504.8" width="218.3" height="72.8"/><circle cx="1504.8" cy="560.6" r="9.5"/><text x="1507.3" y="548.3">170</text></g>
<g id="n35"><rect x="1569.9" y="504.8" width="72.8" height="218.3"/><circle cx="1627.1" cy="584.9" r="9.5"/><text x="1629.6" y="572.6">35</text></g>
<g id="n116"><rect x="1642.7" y="504.8" width="72.8" height="218.3"/><circle cx="1690.8" cy="529" r="9.5"/><text x="1693.3" y="516.7">116</text></g>
<g id="n197"><rect x="1715.4" y="504.8" width="72.8" height="218.3"/><circle cx="1778.9" cy="666.9" r="9.5"/><text x="1781.4" y="654.6">197</text></g>
<g id="n62"><rect x="1788.2" y="650.3" width="218.3" height="72.8"/><circle cx="1892.9" cy="683" r="9.5"/><text x="1895.4" y="670.7">62</text></g>
<g id="n143"><rect x="1788.2" y="577.6" width="218.3" height="72.8"/><circle cx="1957.1" cy="627" r="9.5"/><text x="1959.6" y="614.7">143</text></g>
<g id="n224"><rect x="1788.2" y="504.8" width="218.3" height="72.8"/><circle cx="1829.2" cy="545" r="9.5"/><text x="1831.7" y="532.7">224</text></g>
<g id="n17"><rect x="1351.6" y="286.5" width="72.8" height="218.3"/><circle cx="1416.3" cy="303.1" r="9.5"/><text x="1418.8" y="290.8">17</text></g>
<g id="n98"><rect x="1424.4" y="286.5" width="72.8" height="218.3"/><circle cx="1480.9" cy="441" r="9.5"/><text x="1483.4" y="428.7">98</text></g>
<g id="n179"><rect x="1497.1" y="286.5" width="72.8" height="218.3"/><circle cx="1545.1" cy="382.9" r="9.5"/><text x="1547.6" y="370.6">179</text></g>
<g id="n44"><rect x="1569.9" y="432" width="218.3" height="72.8"/><circle cx="1592.8" cy="480.9" r="9.5"/><text x="1595.3" y="468.6">44</text></g>
<g id="n125"><rect x="1569.9" y="359.3" width="218.3" height="72.8"/><circle cx="1683" cy="398.9" r="9.5"/><text x="1685.5" y="386.6">125</text></g>
<g id="n206"><rect x="1569.9" y="286.5" width="218.3" height="72.8"/><circle cx="1746.8" cy="319.1" r="9.5"/><text x="1749.3" y="306.8">206</text></g>
<g id="n71"><rect x="1788.2" y="286.5" width="72.8" height="218.3"/><circle cx="1794.9" cy="415" r="9.5"/><text x="1797.4" y="402.7">71</text></g>
<g id="n152"><rect x="1861" y="286.5" width="72.8" height="218.3"/><circle cx="1860.8" cy="359" r="9.5"/><text x="1863.3" y="346.7">152</text></g>
<g id="n233"><rect x="1933.7" y="286.5" width="72.8" height="218.3"/><circle cx="1948.9" cy="496.9" r="9.5"/><text x="1951.4" y="484.6">233</text></g>
<g id="n26"><rect x="1351.6" y="213.7" width="218.3" height="72.8"/><circle cx="1536.9" cy="254.5" r="9.5"/><text x="1539.4" y="242.2">26</text></g>
<g id="n107"><rect x="1351.6" y="141" width="218.3" height="72.8"/><circle cx="1382.9" cy="172.5" r="9.5"/><text x="1385.4" y="160.2">107</text></g>
<g id="n188"><rect x="1351.6" y="68.2" width="218.3" height="72.8"/><circle cx="1448.9" cy="117" r="9.5"/><text x="1451.4" y="104.7">188</text></g>
<g id="n53"><rect x="1569.9" y="68.2" width="72.8" height="218.3"/><circle cx="1585" cy="133.1" r="9.5"/><text x="1587.5" y="120.8">53</text></g>
<g id="n134"><rect x="1642.7" y="68.2" width="72.8" height="218.3"/><circle cx="1650.9" cy="271" r="9.5"/><text x="1653.4" y="258.7">134</text></g>
<g id="n215"><rect x="1715.4" y="68.2" width="72.8" height="218.3"/><circle cx="1715.1" cy="212.9" r="9.5"/><text x="1717.6" y="200.6">215</text></g>
<g id="n80"><rect x="1788.2" y="213.7" width="218.3" height="72.8"/><circle cx="1837" cy="238.9" r="9.5"/><text x="1839.5" y="226.6">80</text></g>
<g id="n161"><rect x="1788.2" y="141" width="218.3" height="72.8"/><circle cx="1925" cy="157.3" r="9.5"/><text x="1927.5" y="145">161</text></g>
</g>
</svg>
